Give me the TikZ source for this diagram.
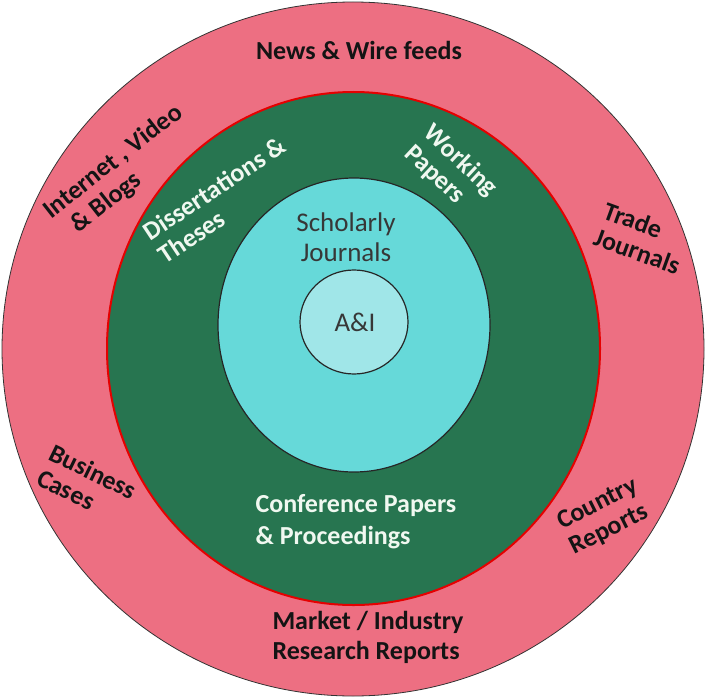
\documentclass[tikz,border=0pt]{standalone}
\usepackage{fontspec}
\setmainfont{Carlito}
\usetikzlibrary{positioning}
\definecolor{ringpink}{RGB}{237,111,130}
\definecolor{ringgreen}{RGB}{39,117,80}
\definecolor{ringcyan}{RGB}{102,217,217}
\definecolor{corecyan}{RGB}{160,230,232}
\definecolor{lbldark}{RGB}{20,20,20}
\definecolor{lbllight}{RGB}{240,248,240}

\begin{document}
\begin{tikzpicture}[
			x=1pt, y=-1pt,
			outerlbl/.style={
				text=lbldark,
				font=\fontsize{26}{30}\selectfont\bfseries,
				align=left,
				inner sep=0pt
			},
			greenlbl/.style={
				text=lbllight,
				font=\fontsize{26}{32}\selectfont\bfseries,
				align=left,
				inner sep=0pt
			},
			tight/.style={
				font=\fontsize{26}{28}\selectfont\bfseries
			},
			corelbl/.style={
				text=lbldark!85,
				font=\fontsize{27}{30}\selectfont,
				align=center,
				inner sep=0pt
			}
			]
			\useasboundingbox (0,0) rectangle (706,698);
			
			% Rings
			\draw[fill=ringpink, draw=black!80, line width=0.8pt] (353,349) ellipse [x radius=351, y radius=347];
			\draw[fill=ringgreen, draw=red!90!black, line width=2pt] (353.5,348.5) ellipse [x radius=246.5, y radius=256.5];
			\draw[fill=ringcyan, draw=black!85, line width=1.2pt] (354,325) ellipse [x radius=136, y radius=147];
			\draw[fill=corecyan, draw=black!85, line width=1.2pt] (354,322) ellipse [x radius=54, y radius=52];
			
			% Outer ring labels
			\node[outerlbl] (news) at (359,50) {News \& Wire feeds};
			\node[outerlbl, tight, rotate=38] (web) at (122,173) {Internet , Video\\\hspace{0.5em}\& Blogs};
			\node[outerlbl, tight, rotate=-20] (trade) at (642,238) {Trade\\Journals};
			\node[outerlbl, tight, rotate=-26] (cases) at (87,484) {Business\\Cases};
			\node[outerlbl, tight, rotate=26.6] (country) at (604,517) {Country\\Reports};
			\node[outerlbl] (market) at (368,637) {Market / Industry\\Research Reports};
			
			% Green ring labels
			\node[greenlbl, tight, rotate=33.5] (theses) at (222,200) {Dissertations \&\\Theses};
			\node[greenlbl, tight, rotate=-43] (working) at (451,171) {Working\\Papers};
			\node[greenlbl] (conf) at (356,522) {Conference Papers\\\& Proceedings};
			
			% Core labels
			\node[corelbl] (scholarly) at (346,237) {Scholarly\\Journals};
			\node[corelbl] (ai) at (355,322) {A\&I};
		\end{tikzpicture}
\end{document}
